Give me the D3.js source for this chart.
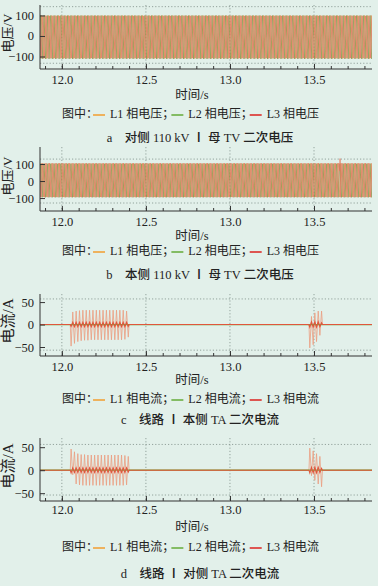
<!DOCTYPE html>
<html>
<head>
<meta charset="utf-8">
<script src="https://cdn.jsdelivr.net/npm/d3@7/dist/d3.min.js"></script>
<style>
  body { margin: 0; background: #e2f0ea; }
  svg { display: block; }
  text { font-family: "Liberation Serif", "Noto Sans CJK SC", serif; fill: #222; }
</style>
</head>
<body>
<svg id="chart" width="378" height="586"></svg>
<script>
// ---- data ----
const timeRange = [11.87, 13.845];
const timeTicks = [12.0, 12.5, 13.0, 13.5];
const voltTicks = [-100, 0, 100];
const currTicks = [-50, 0, 50];
const freq = 50;
const phaseNames = ['L1', 'L2', 'L3'];
const phaseAngles = [0, -120, 120];
const phaseColors = ['#f2a33a', '#6cb043', '#dd2f2b'];

// voltage envelopes (positive / negative peaks per phase)
const voltPeakA = [100, 100, 98];
const voltTroughA = [-110, -112, -108];
const voltPeakB = [104, 102, 105];
const voltTroughB = [-94, -96, -95];
const spikeTimeB = [13.655];
const spikeValB = [132];

// current bursts: start time and half-cycle peaks (A)
const burstStart = [12.05, 13.47];
const currC_L1_1 = [-48, 28, -42, 30, -38, 31, -36, 32, -35, 32, -35, 32, -34, 32, -34, 32, -34, 32,
                    -34, 32, -34, 32, -34, 32, -34, 32, -34, 32, -34, 32, -34, 32, -33, 30, -28];
const currC_L3_1 = [-4, 5, -5, 5, -5, 5, -5, 5, -5, 5, -5, 5, -5, 5, -5, 5, -5, 5,
                    -5, 5, -5, 5, -5, 5, -5, 5, -5, 5, -5, 5, -5, 5, -5, 5, -4];
const currC_L1_2 = [-52, 18, -45, 26, -38, 30, -24, 30];
const currC_L3_2 = [-6, 6, -6, 6, -6, 6, -5, 4];
const currD_L1_1 = [46, -10, 40, -30, 36, -32, 34, -33, 34, -33, 33, -33, 33, -33, 33, -33, 33, -33,
                    33, -33, 33, -33, 33, -33, 33, -33, 33, -33, 33, -33, 33, -33, 32, -32, 30];
const currD_L3_1 = [-6, 5, -5, 5, -5, 5, -5, 5, -5, 5, -5, 5, -5, 5, -5, 5, -5, 5,
                    -5, 5, -5, 5, -5, 5, -5, 5, -5, 5, -5, 5, -5, 5, -5, 5, -4];
const currD_L1_2 = [48, -12, 42, -22, 36, -30, 30, -36];
const currD_L3_2 = [-6, 6, -6, 6, -6, 6, -5, 4];

// ---- helpers ----
const svg = d3.select('#chart');
const x = d3.scaleLinear().domain(timeRange).range([40, 372]);
const half = 1 / (2 * freq);

function voltWave(peak, trough, angle, spikesT, spikesV) {
  const offset = (angle / 360) / freq;
  let k = Math.floor((timeRange[0] - offset) / half) - 1;
  const pts = [];
  for (let t = offset + k * half; t <= timeRange[1] + half; k++, t = offset + k * half) {
    pts.push([t, (k % 2 === 0) ? peak : trough]);
  }
  if (spikesT) spikesT.forEach((s, i) => {
    pts.push([s - 0.001, 60], [s, spikesV[i]], [s + 0.001, 60]);
  });
  return pts.sort((a, b) => a[0] - b[0]);
}

function currWave(bursts) {
  const pts = [[timeRange[0], 0]];
  bursts.forEach(([t0, peaks]) => {
    pts.push([t0, 0]);
    peaks.forEach((v, i) => pts.push([t0 + (i + 0.5) * half, v]));
    pts.push([t0 + peaks.length * half, 0]);
  });
  pts.push([timeRange[1], 0]);
  return pts;
}

function panel(cfg) {
  const y = d3.scaleLinear().domain(cfg.domain).range([cfg.bottom, cfg.top]);
  const g = svg.append('g');

  g.append('clipPath').attr('id', 'clip-' + cfg.id)
    .append('rect').attr('x', 40).attr('y', cfg.top).attr('width', 332).attr('height', cfg.bottom - cfg.top);

  // dotted grid
  g.selectAll('.vg').data(timeTicks).enter().append('line')
    .attr('x1', d => x(d)).attr('x2', d => x(d)).attr('y1', cfg.top).attr('y2', cfg.bottom)
    .attr('stroke', '#7f8f89').attr('stroke-width', 0.8).attr('stroke-dasharray', '1.2,2');
  g.selectAll('.hg').data(cfg.grid).enter().append('line')
    .attr('x1', 40).attr('x2', 372).attr('y1', d => y(d)).attr('y2', d => y(d))
    .attr('stroke', '#7f8f89').attr('stroke-width', 0.8).attr('stroke-dasharray', '1.2,2');

  const line = d3.line().x(d => x(d[0])).y(d => y(d[1]));
  const plot = g.append('g').attr('clip-path', 'url(#clip-' + cfg.id + ')');
  cfg.series.forEach((pts, i) => {
    plot.append('path').datum(pts).attr('d', line)
      .attr('fill', 'none')
      .attr('stroke', cfg.colors[i])
      .attr('stroke-width', cfg.widths[i])
      .attr('stroke-opacity', cfg.opacity[i]);
  });

  // axes
  const minor = g.append('g').attr('transform', `translate(0,${cfg.bottom})`)
    .call(d3.axisBottom(x).tickValues(x.ticks(20)).tickSize(-3).tickFormat(''));
  minor.select('.domain').remove();
  const xa = g.append('g').attr('transform', `translate(0,${cfg.bottom})`)
    .call(d3.axisBottom(x).tickValues(timeTicks).tickSize(-5).tickPadding(cfg.tickPad).tickFormat(d3.format('.1f')));
  xa.select('.domain').attr('d', `M40,0H372`);
  const ya = g.append('g').attr('transform', 'translate(40,0)')
    .call(d3.axisLeft(y).tickValues(cfg.ticks).tickSize(-5).tickPadding(6));
  ya.select('.domain').attr('d', `M0,${cfg.top}V${cfg.bottom}`);
  g.selectAll('.domain, .tick line').attr('stroke', '#333');
  g.selectAll('.tick text').attr('font-size', 12.5).attr('fill', '#222')
    .attr('font-family', '"Liberation Serif", serif');

  g.append('text').attr('transform', `translate(${cfg.ylabX},${cfg.ylabY}) rotate(-90)`)
    .attr('text-anchor', 'middle').attr('dominant-baseline', 'middle')
    .attr('font-size', cfg.ylabSize).text(cfg.ylabel);

  g.append('text').attr('x', 192).attr('y', cfg.titleY)
    .attr('text-anchor', 'middle').attr('dominant-baseline', 'middle')
    .attr('font-size', 12.5).text('时间/s');

  // legend
  const lg = g.append('g').attr('transform', `translate(62,${cfg.legendY})`);
  let cx = 0;
  const t0 = lg.append('text').attr('x', cx).attr('dominant-baseline', 'middle').attr('font-size', 12).text('图中：');
  cx += t0.node().getComputedTextLength() - 7;
  phaseNames.forEach((p, i) => {
    lg.append('line').attr('x1', cx + 2).attr('x2', cx + 14).attr('y1', 0).attr('y2', 0)
      .attr('stroke', phaseColors[i]).attr('stroke-width', 1.6);
    cx += 19;
    const tt = lg.append('text').attr('x', cx).attr('dominant-baseline', 'middle').attr('font-size', 12)
      .text(p + ' 相' + cfg.unitName + (i < 2 ? '；' : ''));
    cx += tt.node().getComputedTextLength() - (i < 2 ? 5 : 0);
  });

  g.append('text').attr('x', 200).attr('y', cfg.captionY)
    .attr('text-anchor', 'middle').attr('dominant-baseline', 'middle')
    .attr('font-size', 12.5).attr('font-weight', 500).text(cfg.caption);
}

const voltColors = ['#d88a4a', '#7f8f3c', '#e6735a'];
const currColors = ['#eb9d80', '#6cb043', '#e0563c'];

panel({
  id: 'a', top: 5, bottom: 69, domain: [-161, 151], grid: [-133, 143], ticks: voltTicks,
  tickPad: 6, ylabX: 9, ylabY: 33, ylabSize: 13, ylabel: '电压/V', unitName: '电压',
  titleY: 96, legendY: 115, captionY: 139, caption: 'a　对侧 110 kV Ⅰ 母 TV 二次电压',
  series: phaseNames.map((p, i) => voltWave(voltPeakA[i], voltTroughA[i], phaseAngles[i])),
  colors: voltColors, widths: [0.8, 0.7, 0.8], opacity: [0.85, 0.85, 0.85]
});
panel({
  id: 'b', top: 147, bottom: 211, domain: [-176, 200], grid: [-129, 129], ticks: voltTicks,
  tickPad: 6, ylabX: 9, ylabY: 176, ylabSize: 13, ylabel: '电压/V', unitName: '电压',
  titleY: 237, legendY: 252, captionY: 276, caption: 'b　本侧 110 kV Ⅰ 母 TV 二次电压',
  series: phaseNames.map((p, i) => voltWave(voltPeakB[i], voltTroughB[i], phaseAngles[i],
    i === 2 ? spikeTimeB : null, i === 2 ? spikeValB : null)),
  colors: voltColors, widths: [0.8, 0.7, 0.8], opacity: [0.85, 0.85, 0.85]
});
panel({
  id: 'c', top: 294, bottom: 356, domain: [-70, 68], grid: [-57, 57], ticks: currTicks,
  tickPad: 6, ylabX: 10, ylabY: 321, ylabSize: 15, ylabel: '电流/A', unitName: '电流',
  titleY: 381, legendY: 400, captionY: 421, caption: 'c　线路 Ⅰ 本侧 TA 二次电流',
  series: [
    currWave([[burstStart[0], currC_L1_1], [burstStart[1], currC_L1_2]]),
    currWave([]),
    currWave([[burstStart[0], currC_L3_1], [burstStart[1], currC_L3_2]])
  ],
  colors: currColors, widths: [0.8, 1.2, 1.1], opacity: [1, 1, 1]
});
panel({
  id: 'd', top: 438, bottom: 501, domain: [-67, 70], grid: [-54, 56], ticks: currTicks,
  tickPad: 4, ylabX: 10, ylabY: 466, ylabSize: 15, ylabel: '电流/A', unitName: '电流',
  titleY: 528, legendY: 548, captionY: 575, caption: 'd　线路 Ⅰ 对侧 TA 二次电流',
  series: [
    currWave([[burstStart[0], currD_L1_1], [burstStart[1], currD_L1_2]]),
    currWave([]),
    currWave([[burstStart[0], currD_L3_1], [burstStart[1], currD_L3_2]])
  ],
  colors: currColors, widths: [0.8, 1.2, 1.1], opacity: [1, 1, 1]
});
</script>
</body>
</html>
